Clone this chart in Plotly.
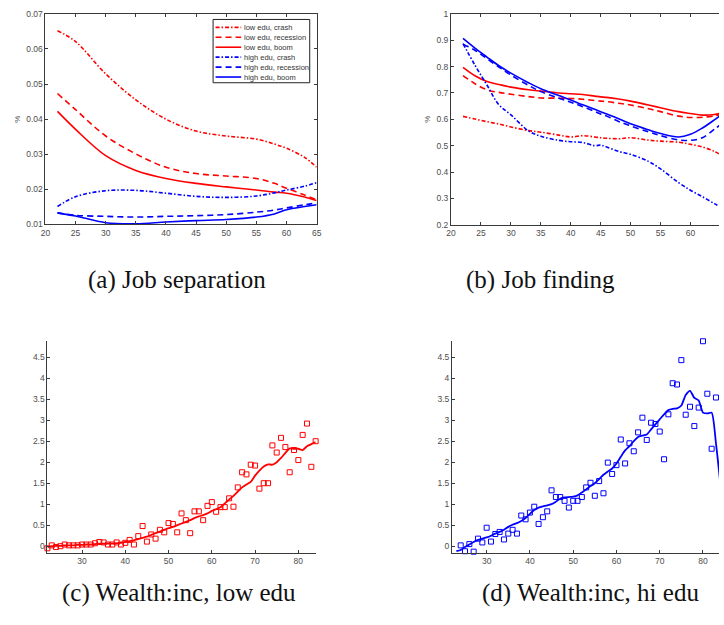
import plotly.graph_objects as go

W, H = 724, 625

# ---------------- job separation by age ----------------
sep_age = [22, 25, 30, 35, 40, 45, 50, 55, 58, 60, 63, 65]
sep_low_crash = [0.0652, 0.0621, 0.0529, 0.0455, 0.0400, 0.0366, 0.0352, 0.0343, 0.0329, 0.0317, 0.0291, 0.0263]
sep_low_rec = [0.0473, 0.0427, 0.0352, 0.0301, 0.0263, 0.0245, 0.0238, 0.0231, 0.0217, 0.0203, 0.0184, 0.0170]
sep_low_boom = [0.0422, 0.0371, 0.0296, 0.0254, 0.0231, 0.0217, 0.0207, 0.0198, 0.0192, 0.0189, 0.0178, 0.0168]
sep_high_crash = [0.0151, 0.0179, 0.0196, 0.0197, 0.0189, 0.0180, 0.0177, 0.0181, 0.0190, 0.0198, 0.0209, 0.0219]
sep_high_rec = [0.0133, 0.0126, 0.0123, 0.0121, 0.0123, 0.0125, 0.0128, 0.0135, 0.0141, 0.0147, 0.0156, 0.0161]
sep_high_boom = [0.0133, 0.0124, 0.0105, 0.0102, 0.0107, 0.0111, 0.0114, 0.0121, 0.0130, 0.0142, 0.0151, 0.0156]

# ---------------- job finding by age ----------------
find_age = [22, 24, 26, 28, 30, 33, 35, 38, 40, 42, 44, 45, 46, 48, 50, 53, 55, 58, 60, 62, 64, 65]
find_low_crash = [0.611, 0.601, 0.591, 0.582, 0.571, 0.557, 0.551, 0.540, 0.533, 0.538, 0.533, 0.530, 0.528, 0.526, 0.530, 0.521, 0.517, 0.513, 0.505, 0.495, 0.478, 0.465]
find_low_rec = [0.766, 0.735, 0.712, 0.702, 0.695, 0.686, 0.681, 0.680, 0.679, 0.676, 0.671, 0.669, 0.667, 0.661, 0.654, 0.640, 0.629, 0.612, 0.607, 0.608, 0.613, 0.618]
find_low_boom = [0.797, 0.765, 0.743, 0.732, 0.722, 0.712, 0.707, 0.700, 0.697, 0.694, 0.688, 0.685, 0.683, 0.677, 0.669, 0.654, 0.644, 0.629, 0.622, 0.616, 0.618, 0.623]
find_high_crash = [0.887, 0.805, 0.730, 0.655, 0.617, 0.555, 0.536, 0.520, 0.515, 0.512, 0.500, 0.502, 0.495, 0.478, 0.467, 0.440, 0.412, 0.360, 0.331, 0.306, 0.280, 0.268]
find_high_rec = [0.885, 0.862, 0.830, 0.798, 0.768, 0.728, 0.705, 0.680, 0.665, 0.648, 0.630, 0.620, 0.612, 0.592, 0.575, 0.552, 0.538, 0.522, 0.520, 0.530, 0.562, 0.580]
find_high_boom = [0.907, 0.870, 0.836, 0.803, 0.775, 0.738, 0.716, 0.690, 0.673, 0.655, 0.638, 0.629, 0.620, 0.602, 0.583, 0.560, 0.546, 0.533, 0.543, 0.567, 0.598, 0.615]

# ---------------- wealth-to-income ratio ----------------
wi_low_age = list(range(22, 85))
wi_low_data = [-0.05, 0.02, -0.02, 0.00, 0.04, 0.02, 0.02, 0.02, 0.04, 0.04, 0.04, 0.07, 0.10, 0.09, 0.04,
               0.04, 0.09, 0.04, 0.08, 0.15, 0.04, 0.24, 0.48, 0.11, 0.28, 0.18, 0.39, 0.33, 0.55, 0.53,
               0.33, 0.78, 0.62, 0.31, 0.83, 0.83, 0.62, 0.96, 1.05, 0.82, 0.93, 0.93, 1.14, 0.94, 1.40,
               1.76, 1.71, 1.94, 1.92, 1.37, 1.50, 1.50, 2.40, 2.23, 2.58, 2.36, 1.76, 2.29, 2.05, 2.65,
               2.92, 1.89, 2.50]
wi_low_fit = [-0.02, 0.00, 0.01, 0.01, 0.02, 0.02, 0.02, 0.03, 0.03, 0.04, 0.04, 0.05, 0.06, 0.06, 0.06,
              0.06, 0.07, 0.08, 0.10, 0.12, 0.14, 0.17, 0.20, 0.23, 0.27, 0.31, 0.35, 0.39, 0.43, 0.46,
              0.50, 0.54, 0.58, 0.62, 0.67, 0.71, 0.74, 0.78, 0.84, 0.88, 0.93, 1.02, 1.11, 1.20, 1.30,
              1.40, 1.47, 1.53, 1.68, 1.80, 1.90, 1.95, 1.94, 2.00, 2.10, 2.22, 2.33, 2.32, 2.32, 2.29,
              2.38, 2.43, 2.48]

wi_hi_age = list(range(23, 85))
wi_hi_data = [-0.16, 0.02, -0.12, 0.05, -0.13, 0.18, 0.09, 0.44, 0.11, 0.29, 0.34, 0.16, 0.30, 0.39, 0.30,
              0.73, 0.64, 0.80, 0.94, 0.53, 0.69, 0.83, 1.33, 1.17, 1.17, 1.08, 0.92, 1.08, 1.08, 1.17,
              1.40, 1.51, 1.20, 1.55, 1.26, 1.99, 1.72, 1.93, 2.54, 1.97, 2.45, 2.26, 2.71, 3.06, 2.53,
              2.94, 2.91, 2.73, 2.07, 3.14, 3.88, 3.85, 4.43, 3.13, 3.32, 2.86, 3.30, 4.88, 3.63, 2.32,
              3.54, 1.56]
wi_hi_fit = [-0.12, -0.09, -0.02, 0.04, 0.10, 0.15, 0.18, 0.21, 0.25, 0.30, 0.34, 0.39, 0.46, 0.51, 0.55,
             0.60, 0.67, 0.77, 0.86, 0.92, 0.95, 0.97, 1.00, 1.06, 1.13, 1.16, 1.17, 1.18, 1.21, 1.28,
             1.35, 1.43, 1.50, 1.60, 1.70, 1.78, 1.85, 1.97, 2.13, 2.28, 2.38, 2.50, 2.60, 2.63, 2.66,
             2.78, 2.90, 3.02, 3.14, 3.24, 3.27, 3.28, 3.35, 3.60, 3.70, 3.53, 3.47, 3.18, 3.16, 3.18,
             2.45, 1.50]

# tick labels
sep_ticks = [0.01, 0.02, 0.03, 0.04, 0.05, 0.06, 0.07]
sep_ticktext = ["0.01", "0.02", "0.03", "0.04", "0.05", "0.06", "0.07"]
find_ticks = [0.2, 0.3, 0.4, 0.5, 0.6, 0.7, 0.8, 0.9, 1.0]
find_ticktext = ["0.2", "0.3", "0.4", "0.5", "0.6", "0.7", "0.8", "0.9", "1"]
age_ticks_ab = [20, 25, 30, 35, 40, 45, 50, 55, 60, 65]
age_ticks_cd = [30, 40, 50, 60, 70, 80]
wi_ticks = [0, 0.5, 1, 1.5, 2, 2.5, 3, 3.5, 4, 4.5]
wi_ticktext = ["0", "0.5", "1", "1.5", "2", "2.5", "3", "3.5", "4", "4.5"]

captions = ["(a) Job separation", "(b) Job finding",
            "(c) Wealth:inc, low edu", "(d) Wealth:inc, hi edu"]

RED, BLUE = "#ff0000", "#0000ff"
DASH = {"crash": "4px,2px,1.5px,2px", "recession": "6px,4px", "boom": "solid"}

series = [
    ("low edu, crash", RED, "crash", sep_low_crash, find_low_crash),
    ("low edu, recession", RED, "recession", sep_low_rec, find_low_rec),
    ("low edu, boom", RED, "boom", sep_low_boom, find_low_boom),
    ("high edu, crash", BLUE, "crash", sep_high_crash, find_high_crash),
    ("high edu, recession", BLUE, "recession", sep_high_rec, find_high_rec),
    ("high edu, boom", BLUE, "boom", sep_high_boom, find_high_boom),
]


def px_x(p):
    return p / W


def px_y(p):
    return 1 - p / H


fig = go.Figure()

for name, col, kind, ysep, yfind in series:
    fig.add_trace(go.Scatter(x=sep_age, y=ysep, mode="lines", name=name, showlegend=False,
                             line=dict(color=col, width=1.6, dash=DASH[kind], shape="spline"),
                             xaxis="x", yaxis="y"))
    fig.add_trace(go.Scatter(x=find_age, y=yfind, mode="lines", name=name, showlegend=False,
                             line=dict(color=col, width=1.6, dash=DASH[kind], shape="spline"),
                             xaxis="x2", yaxis="y2"))

for ages, data, fit, col, xa, ya in [(wi_low_age, wi_low_data, wi_low_fit, RED, "x3", "y3"),
                                      (wi_hi_age, wi_hi_data, wi_hi_fit, BLUE, "x4", "y4")]:
    fig.add_trace(go.Scatter(x=ages, y=data, mode="markers", showlegend=False, cliponaxis=False,
                             marker=dict(symbol="square-open", size=5, color=col, line=dict(width=1, color=col)),
                             xaxis=xa, yaxis=ya))
    fig.add_trace(go.Scatter(x=ages, y=fit, mode="lines", showlegend=False,
                             line=dict(color=col, width=1.8, shape="spline", smoothing=0.6),
                             xaxis=xa, yaxis=ya))

TICKFONT = dict(family="Liberation Sans, Arial, sans-serif", size=8.5, color="#4d4d4d")
AXCOL = "#3a3a3a"
common = dict(showgrid=False, zeroline=False, showline=True, linecolor=AXCOL, linewidth=1,
              ticks="inside", ticklen=3, tickcolor=AXCOL, tickfont=TICKFONT)

fig.update_layout(
    width=W, height=H, margin=dict(l=0, r=0, t=0, b=0),
    paper_bgcolor="white", plot_bgcolor="white",
    xaxis=dict(domain=[px_x(41), px_x(316)], range=[20, 65], tickvals=age_ticks_ab,
               mirror="ticks", anchor="y", **common),
    yaxis=dict(domain=[px_y(223), px_y(9)], range=[0.01, 0.07], tickvals=sep_ticks, ticktext=sep_ticktext,
               mirror="ticks", anchor="x",
               title=dict(text="%", font=dict(family="Liberation Sans, Arial", size=8, color="#4d4d4d"), standoff=4),
               **common),
    xaxis2=dict(domain=[px_x(452.3), 1.0], range=[20, 64.77], tickvals=age_ticks_ab,
                mirror="ticks", anchor="y2", **common),
    yaxis2=dict(domain=[px_y(223.3), px_y(9)], range=[0.2, 1.0], tickvals=find_ticks, ticktext=find_ticktext,
                anchor="x2",
                title=dict(text="%", font=dict(family="Liberation Sans, Arial", size=8, color="#4d4d4d"), standoff=4),
                **common),
    xaxis3=dict(domain=[px_x(43), px_x(315)], range=[22, 84], tickvals=age_ticks_cd, anchor="y3", **common),
    yaxis3=dict(domain=[px_y(556.7), px_y(341.7)], range=[-0.157, 4.88], tickvals=wi_ticks, ticktext=wi_ticktext,
                anchor="x3", **common),
    xaxis4=dict(domain=[px_x(453.3), 1.0], range=[22, 83.7], tickvals=age_ticks_cd, anchor="y4", **common),
    yaxis4=dict(domain=[px_y(556.7), px_y(341.7)], range=[-0.157, 4.88], tickvals=wi_ticks, ticktext=wi_ticktext,
                anchor="x4", **common),
)

# legend box inside the job-separation panel (axis area spans 41..316 x 9..223 px)
ax_l, ax_r, ax_t, ax_b = 41, 316, 9, 223


def dom_x(p):
    return (p - ax_l) / (ax_r - ax_l)


def dom_y(p):
    return (ax_b - p) / (ax_b - ax_t)


fig.add_shape(type="rect", xref="x domain", yref="y domain",
              x0=dom_x(211), x1=dom_x(309), y0=dom_y(79), y1=dom_y(14.7),
              line=dict(color="#222222", width=1), fillcolor="white", layer="above")
for i, (name, col, kind, _, _) in enumerate(series):
    yy = dom_y(22.7 + i * 10.1)
    fig.add_shape(type="line", xref="x domain", yref="y domain",
                  x0=dom_x(213.5), x1=dom_x(239.5), y0=yy, y1=yy,
                  line=dict(color=col, width=1.6, dash=DASH[kind]), layer="above")
    fig.add_annotation(xref="x domain", yref="y domain", x=dom_x(240.5), y=yy, text=name,
                       showarrow=False, xanchor="left", yanchor="middle",
                       font=dict(family="Liberation Sans, Arial", size=7.5, color="#333333"))

# panel captions
cap_font = dict(family="Liberation Serif, Times New Roman, serif", size=25, color="#111111")
for text, cx, cy in [(captions[0], 174, 279), (captions[1], 543, 279),
                     (captions[2], 176, 598), (captions[3], 594, 598)]:
    fig.add_annotation(xref="paper", yref="paper", x=px_x(cx), y=px_y(cy), text=text,
                       showarrow=False, xanchor="center", yanchor="middle", font=cap_font)

fig.write_html("out.html")
